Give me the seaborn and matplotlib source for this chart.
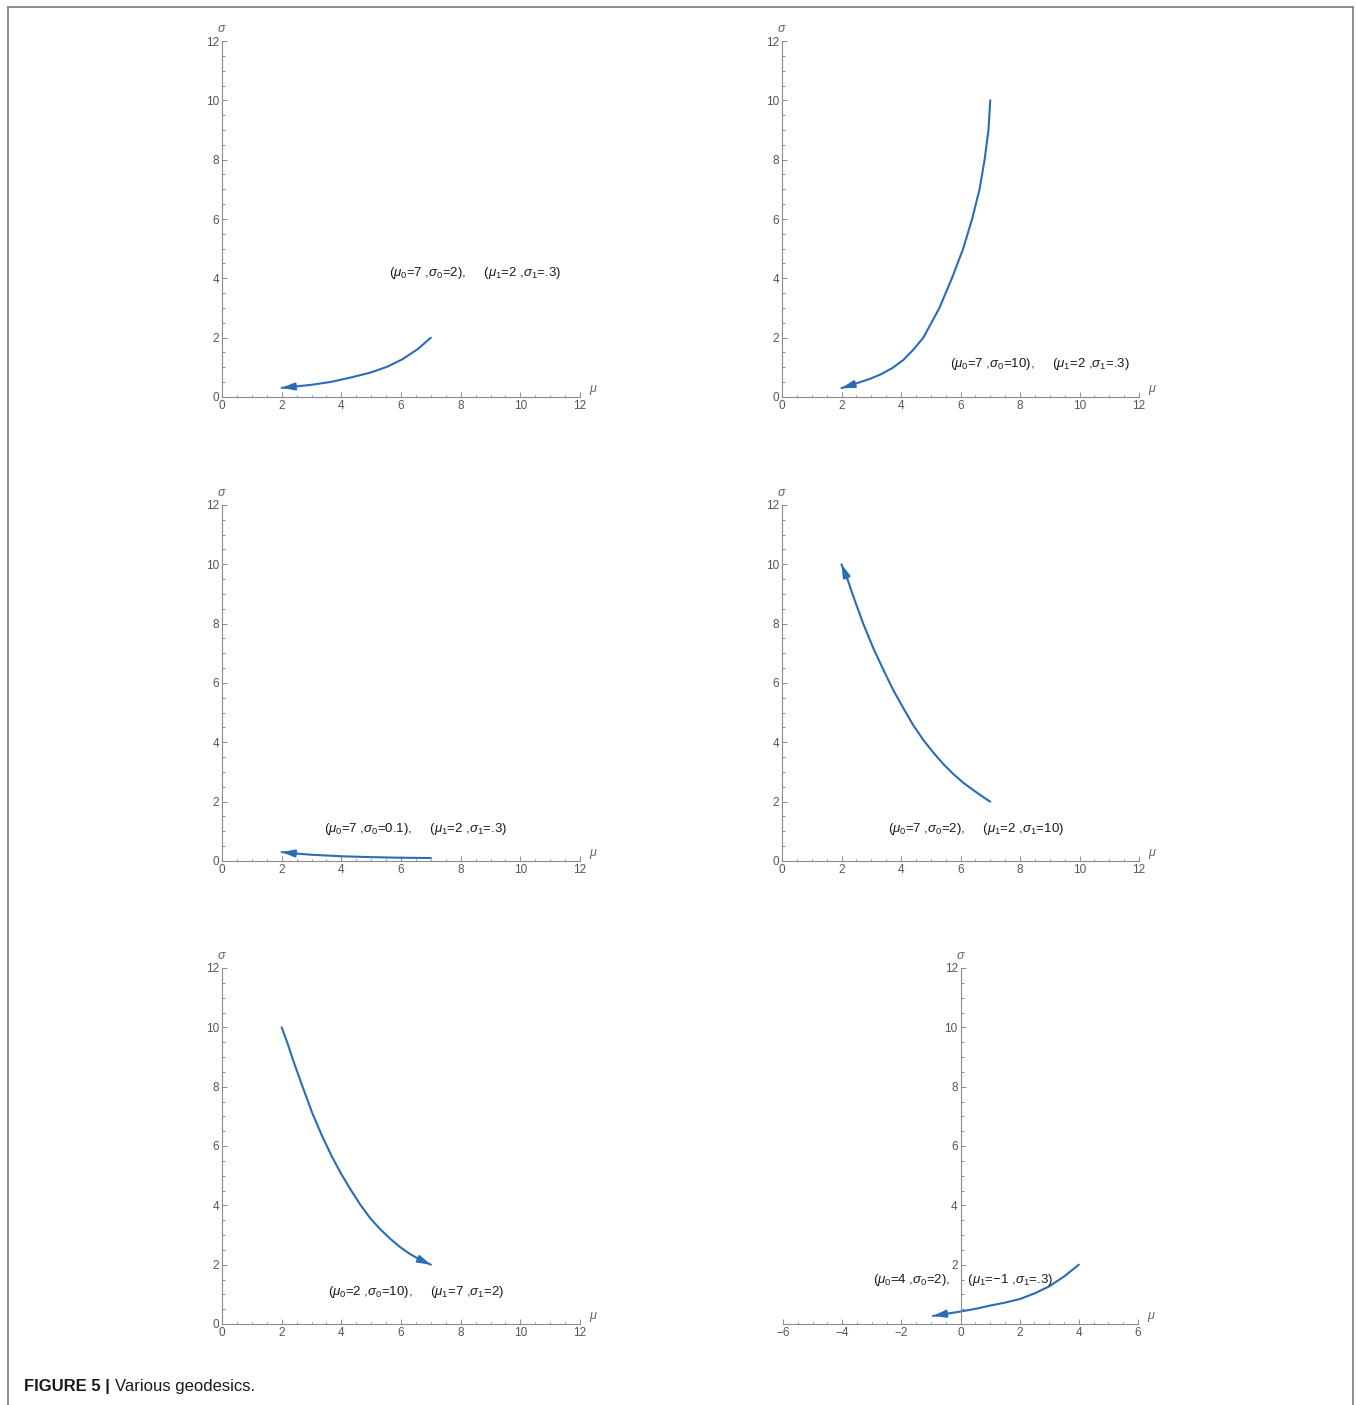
import numpy as np
import pandas as pd
import matplotlib
matplotlib.use("Agg")
import matplotlib.pyplot as plt
from matplotlib.ticker import MultipleLocator, FixedLocator
import seaborn as sns

sns.set_style("white")
plt.rcParams['font.family'] = ['Liberation Sans', 'DejaVu Sans']
plt.rcParams['mathtext.fontset'] = 'custom'
plt.rcParams['mathtext.rm'] = 'Liberation Sans'
plt.rcParams['mathtext.it'] = 'Liberation Sans:italic'

# ---- data (mu, sigma along each geodesic, start -> end) ----
mu_a = [7.0, 6.57, 6.06, 5.56, 5.0, 4.33, 3.66, 2.99, 2.32, 2.0]
sg_a = [2.0, 1.62, 1.28, 1.03, 0.83, 0.66, 0.51, 0.41, 0.34, 0.31]

mu_b = [7.0, 6.94, 6.81, 6.64, 6.39, 6.09, 5.71, 5.29, 4.75, 4.40, 4.08, 3.70, 3.29, 2.95, 2.62, 2.30, 2.0]
sg_b = [10.0, 9.0, 8.0, 7.0, 6.0, 5.0, 4.0, 3.0, 2.0, 1.58, 1.25, 0.97, 0.75, 0.61, 0.50, 0.39, 0.30]

mu_c = [7.0, 6.0, 5.0, 4.0, 3.0, 2.5, 2.0]
sg_c = [0.10, 0.11, 0.13, 0.16, 0.21, 0.25, 0.30]

mu_d = [7.0, 6.77, 6.43, 6.09, 5.76, 5.42, 5.09, 4.75, 4.41, 4.08, 3.74, 3.41, 3.07, 2.73, 2.40, 2.20, 2.0]
sg_d = [2.0, 2.15, 2.39, 2.64, 2.93, 3.27, 3.65, 4.08, 4.58, 5.15, 5.76, 6.44, 7.17, 8.0, 8.91, 9.5, 10.0]

mu_e = [2.0, 2.2, 2.38, 2.7, 3.03, 3.35, 3.68, 4.0, 4.33, 4.65, 4.98, 5.3, 5.63, 5.96, 6.3, 6.65, 7.0]
sg_e = [10.0, 9.45, 8.9, 8.0, 7.1, 6.35, 5.65, 5.05, 4.5, 4.0, 3.55, 3.2, 2.88, 2.6, 2.36, 2.16, 2.0]

mu_f = [4.0, 3.5, 3.0, 2.5, 2.0, 1.5, 1.0, 0.5, 0.0, -0.5, -0.93]
sg_f = [2.0, 1.6, 1.27, 1.03, 0.84, 0.72, 0.62, 0.51, 0.42, 0.34, 0.27]

labels = [
    r"($\mu_0$=7 ,$\sigma_0$=2),     ($\mu_1$=2 ,$\sigma_1$=.3)",
    r"($\mu_0$=7 ,$\sigma_0$=10),     ($\mu_1$=2 ,$\sigma_1$=.3)",
    r"($\mu_0$=7 ,$\sigma_0$=0.1),     ($\mu_1$=2 ,$\sigma_1$=.3)",
    r"($\mu_0$=7 ,$\sigma_0$=2),     ($\mu_1$=2 ,$\sigma_1$=10)",
    r"($\mu_0$=2 ,$\sigma_0$=10),     ($\mu_1$=7 ,$\sigma_1$=2)",
    r"($\mu_0$=4 ,$\sigma_0$=2),     ($\mu_1$=−1 ,$\sigma_1$=.3)",
]
label_pos = [(8.5, 4.18), (8.67, 1.11), (6.5, 1.08), (6.52, 1.08), (6.5, 1.08), (0.1, 1.47)]

x_ranges = [(0, 12)] * 5 + [(-6, 6)]
x_ticks = [[0, 2, 4, 6, 8, 10, 12]] * 5 + [[-6, -4, -2, 0, 2, 4, 6]]
y_ticks_all = [0, 2, 4, 6, 8, 10, 12]

curves = [(mu_a, sg_a), (mu_b, sg_b), (mu_c, sg_c), (mu_d, sg_d), (mu_e, sg_e), (mu_f, sg_f)]

# ---- layout ----
W, H = 1356, 1405
fig = plt.figure(figsize=(W / 100, H / 100), dpi=100)

# pixel rectangles: (x at left of range, x at right of range, y at 12, y at 0)
rects = [
    (222, 580, 41, 397), (782, 1139, 41, 397),
    (222, 580, 505, 861), (782, 1139, 505, 861),
    (222, 580, 968, 1324), (783, 1138, 968, 1324),
]

line_col = "#2b6cb4"
axis_col = "#8c8c8c"
tick_col = "#555555"

for i, (r, (mu, sg)) in enumerate(zip(rects, curves)):
    x0, x1, yt, yb = r
    ax = fig.add_axes([x0 / W, 1 - yb / H, (x1 - x0) / W, (yb - yt) / H])
    ax.set_facecolor("none")
    df = pd.DataFrame({"mu": mu, "sigma": sg})
    sns.lineplot(data=df, x="mu", y="sigma", sort=False, estimator=None,
                 color=line_col, lw=1.5, ax=ax,
                 solid_joinstyle="round", solid_capstyle="round")
    ax.annotate("", xy=(mu[-1], sg[-1]), xytext=(mu[-2], sg[-2]),
                arrowprops=dict(arrowstyle="-|>,head_length=0.75,head_width=0.22",
                                color=line_col, lw=1.5, shrinkA=0, shrinkB=0),
                annotation_clip=False)
    ax.set_xlim(*x_ranges[i])
    ax.set_ylim(0, 12)
    ax.set_xlabel("")
    ax.set_ylabel("")
    for s in ["top", "right"]:
        ax.spines[s].set_visible(False)
    ax.spines["left"].set_position(("data", 0))
    ax.spines["bottom"].set_position(("data", 0))
    for s in ["left", "bottom"]:
        ax.spines[s].set_color(axis_col)
        ax.spines[s].set_linewidth(0.8)
    ax.xaxis.set_major_locator(FixedLocator(x_ticks[i]))
    if i == 5:
        ax.yaxis.set_major_locator(FixedLocator([2, 4, 6, 8, 10, 12]))
    else:
        ax.yaxis.set_major_locator(FixedLocator(y_ticks_all))
    ax.xaxis.set_minor_locator(MultipleLocator(0.5))
    ax.yaxis.set_minor_locator(MultipleLocator(0.5))
    ax.tick_params(which="both", direction="in", color=axis_col, width=0.7,
                   labelcolor=tick_col, labelsize=8.5, pad=2,
                   bottom=True, left=True)
    ax.tick_params(which="major", length=3.5)
    ax.tick_params(which="minor", length=1.8)
    ax.set_xticklabels([str(t).replace("-", "\u2212") for t in x_ticks[i]])
    # axis names, Mathematica style
    ax.text(0, 12.2, r"$\sigma$", color="#666666", fontsize=9, ha="center", va="bottom", clip_on=False)
    ax.text(x_ranges[i][1] + 0.3, 0.0, r"$\mu$", color="#666666", fontsize=9, ha="left", va="bottom", clip_on=False)
    lx, ly = label_pos[i]
    ax.text(lx, ly, labels[i], fontsize=9.5, color="#1a1a1a", ha="center", va="center")

# outer frame (open at bottom)
fc = "#7a7a7a"
fig.add_artist(plt.Line2D([8 / W, 8 / W], [0, 1 - 7 / H], transform=fig.transFigure, color=fc, lw=1.2))
fig.add_artist(plt.Line2D([1353 / W, 1353 / W], [0, 1 - 7 / H], transform=fig.transFigure, color=fc, lw=1.2))
fig.add_artist(plt.Line2D([8 / W, 1353 / W], [1 - 7 / H, 1 - 7 / H], transform=fig.transFigure, color=fc, lw=1.2))

# caption
t1 = fig.text(24 / W, 1 - 1387 / H, "FIGURE 5 |", fontsize=12, fontweight="bold",
              color="#1a1a1a", ha="left", va="center")
fig.canvas.draw()
bb = t1.get_window_extent(renderer=fig.canvas.get_renderer())
fig.text((bb.x1 + 5) / W, 1 - 1387 / H, "Various geodesics.", fontsize=12,
         color="#1a1a1a", ha="left", va="center")

fig.savefig("out.png", dpi=100, facecolor="white")
